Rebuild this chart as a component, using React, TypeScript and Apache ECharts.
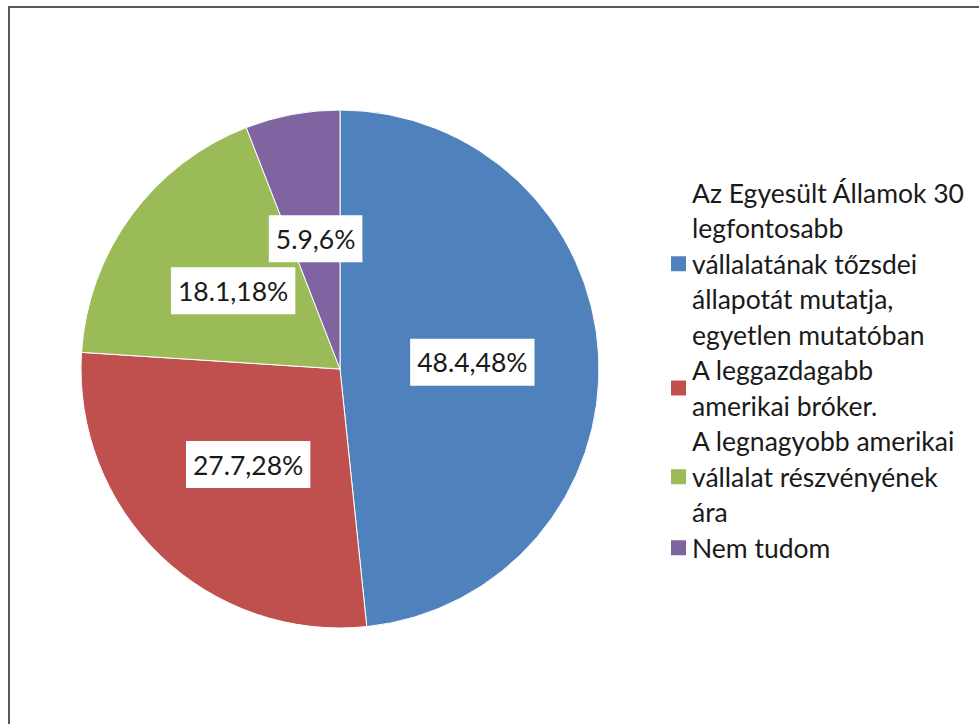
import React, { useEffect, useRef } from "react";
import * as echarts from "echarts";

const categories = [
  "Az Egyesült Államok 30\nlegfontosabb\nvállalatának tőzsdei\nállapotát mutatja,\negyetlen mutatóban",
  "A leggazdagabb\namerikai bróker.",
  "A legnagyobb amerikai\nvállalat részvényének\nára",
  "Nem tudom",
];
const values = [48.4, 27.7, 18.1, 5.9];
const colors = ["#4F81BD", "#C0504D", "#9BBB59", "#8064A2"];

export default function App() {
  const ref = useRef<HTMLDivElement>(null);
  useEffect(() => {
    if (!ref.current) return;
    const chart = echarts.init(ref.current, undefined, { renderer: "svg" });
    chart.setOption({
      animation: false,
      backgroundColor: "#ffffff",
      color: colors,
      graphic: [
        {
          type: "rect",
          shape: { x: 9, y: 7, width: 1000, height: 800 },
          style: { fill: "none", stroke: "#5a5a5a", lineWidth: 2 },
          silent: true,
        },
      ],
      legend: {
        orient: "vertical",
        left: 669,
        top: 175,
        padding: 0,
        itemGap: 0,
        itemWidth: 17,
        itemHeight: 17,
        icon: "rect",
        selectedMode: false,
        textStyle: {
          fontFamily: "Lato",
          fontSize: 26.5,
          lineHeight: 35.5,
          color: "#1a1a1a",
          padding: [0, 0, 0, 0],
        },
        data: categories,
      },
      series: [
        {
          type: "pie",
          center: [340, 369],
          radius: 259,
          startAngle: 90,
          clockwise: true,
          itemStyle: { borderColor: "#ffffff", borderWidth: 1 },
          label: {
            show: true,
            position: "inside",
            fontFamily: "Lato",
            fontSize: 26.5,
            color: "#1a1a1a",
            backgroundColor: "#ffffff",
            padding: [10, 7, 10, 7],
            formatter: (p: any) => `${p.value.toFixed(1)},${Math.round(p.percent)}%`,
          },
          labelLine: { show: false },
          emphasis: { disabled: true },
          data: categories.map((name, i) => ({ name, value: values[i] })),
        },
      ],
    });
    return () => chart.dispose();
  }, []);
  return (
    <div
      ref={ref}
      style={{ position: "absolute", left: 0, top: 0, width: 979, height: 724 }}
    />
  );
}
